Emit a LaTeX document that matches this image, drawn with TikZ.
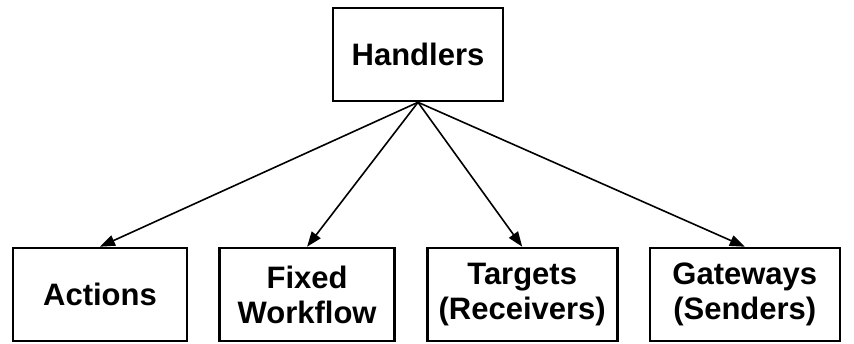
\documentclass[tikz,border=0pt]{standalone}
\usepackage{fontspec}
\setmainfont{Liberation Sans}
\usetikzlibrary{positioning, arrows.meta}

\tikzset{
    box/.style={draw, line width=2.6pt, minimum height=93pt, align=center,
        font=\fontsize{31}{35}\selectfont\bfseries, inner sep=0pt},
    link/.style={line width=1.6pt, -{Triangle[length=15pt,width=11pt]}}
}

\begin{document}
\begin{tikzpicture}[x=1pt, y=1pt, node distance=30pt]
        \useasboundingbox (0,0) rectangle (854,-343);
        \node[box, minimum width=170pt] (hand) at (418,-54.5) {Handlers};
        \node[box, minimum width=174pt] (act) at (100,-294.5) {Actions};
        \node[box, minimum width=175pt, right=of act] (fix) {Fixed\\Workflow};
        \node[box, minimum width=190pt, right=of fix] (tgt) {Targets\\(Receivers)};
        \node[box, minimum width=190pt, right=of tgt] (gw) {Gateways\\(Senders)};

        \draw[link] (hand.south) -- (act.north);
        \draw[link] (hand.south) -- (fix.north);
        \draw[link] (hand.south) -- (tgt.north);
        \draw[link] (hand.south) -- (gw.north);
\end{tikzpicture}
\end{document}
